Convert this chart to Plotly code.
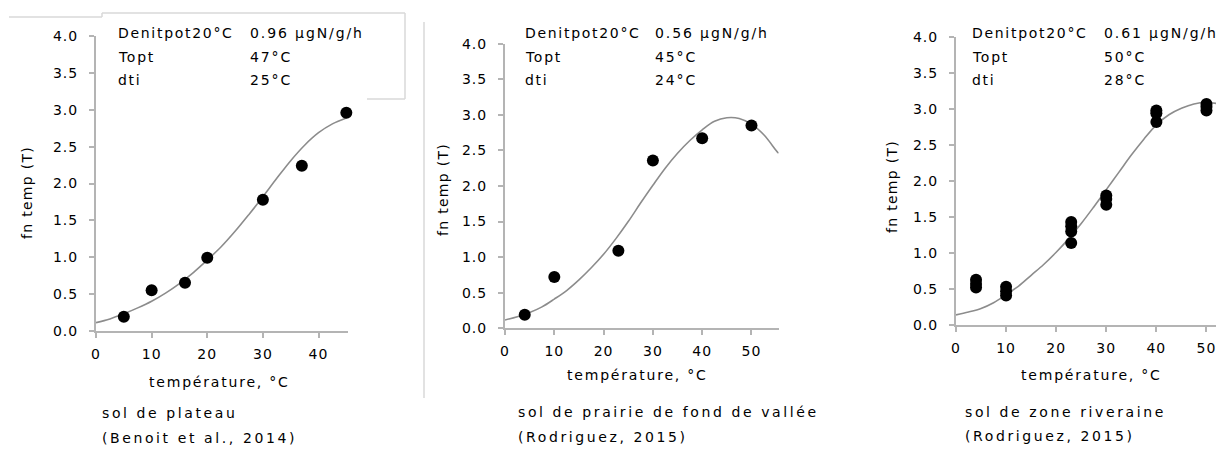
import plotly.graph_objects as go

# The page body has an 8px margin: the figure is drawn 8px in from the top-left,
# so it is sized 1216x442 and all pixel positions below are page pixels.
PAGE_OFF = 8
W, H = 1224 - PAGE_OFF, 450 - PAGE_OFF

# ---------------- data ----------------
# Panel 1 : sol de plateau
t_obs1 = [5, 10, 16, 20, 30, 37, 45]
f_obs1 = [0.19, 0.55, 0.65, 0.99, 1.78, 2.24, 2.96]
t_fit1 = [0, 2.5, 5, 7.5, 10, 12.5, 15, 17.5, 20, 22.5, 25, 27.5, 30, 32.5, 35, 37.5, 40, 42.5, 45]
f_fit1 = [0.11, 0.16, 0.23, 0.31, 0.40, 0.51, 0.64, 0.79, 0.96, 1.14, 1.35, 1.58, 1.82, 2.07, 2.31, 2.52, 2.69, 2.81, 2.89]

# Panel 2 : sol de prairie de fond de vallée
t_obs2 = [4, 10, 23, 30, 40, 50]
f_obs2 = [0.19, 0.72, 1.09, 2.36, 2.67, 2.85]
t_fit2 = [0, 2.5, 5, 7.5, 10, 12.5, 15, 17.5, 20, 22.5, 25, 27.5, 30, 32.5, 35, 37.5, 40, 42.5, 45, 47.5, 50, 52.5, 55, 55.5]
f_fit2 = [0.115, 0.16, 0.22, 0.30, 0.41, 0.53, 0.68, 0.85, 1.04, 1.26, 1.50, 1.76, 2.01, 2.25, 2.46, 2.64, 2.79, 2.91, 2.96, 2.95, 2.87, 2.72, 2.50, 2.46]

# Panel 3 : sol de zone riveraine
t_obs3 = [4, 4, 4, 10, 10, 10, 23, 23, 23, 23, 30, 30, 30, 40, 40, 40, 50, 50, 50]
f_obs3 = [0.63, 0.57, 0.52, 0.53, 0.47, 0.41, 1.43, 1.37, 1.30, 1.14, 1.80, 1.75, 1.67, 2.98, 2.94, 2.82, 3.07, 3.03, 2.98]
t_fit3 = [0, 2.5, 5, 7.5, 10, 12.5, 15, 17.5, 20, 22.5, 25, 27.5, 30, 32.5, 35, 37.5, 40, 42.5, 45, 47.5, 50, 52.5, 53.5]
f_fit3 = [0.14, 0.18, 0.23, 0.31, 0.42, 0.54, 0.69, 0.84, 1.01, 1.20, 1.41, 1.64, 1.88, 2.12, 2.36, 2.58, 2.78, 2.92, 3.01, 3.07, 3.09, 3.07, 3.05]

y_ticks = [0.0, 0.5, 1.0, 1.5, 2.0, 2.5, 3.0, 3.5, 4.0]
y_tick_labels = ["0.0", "0.5", "1.0", "1.5", "2.0", "2.5", "3.0", "3.5", "4.0"]
x_ticks = [0, 10, 20, 30, 40, 50]
x_tick_labels = ["0", "10", "20", "30", "40", "50"]

param_names = ["Denitpot20°C", "Topt", "dti"]
param_values = [
    ["0.96 µgN/g/h", "47°C", "25°C"],
    ["0.56 µgN/g/h", "45°C", "24°C"],
    ["0.61 µgN/g/h", "50°C", "28°C"],
]
captions = [
    ["sol de plateau", "(Benoit et al., 2014)"],
    ["sol de prairie de fond de vallée", "(Rodriguez, 2015)"],
    ["sol de zone riveraine", "(Rodriguez, 2015)"],
]
x_title = "température, °C"
y_title = "fn temp (T)"

# ---------------- layout geometry (page pixels) ----------------
FONT = "DejaVu Sans, Verdana, Arial, sans-serif"
panels = [
    dict(x0=96, x1=348, xmax=45.3, yb=330.7, yt=36.3),
    dict(x0=505, x1=778.6, xmax=55.5, yb=328.2, yt=43.8),
    dict(x0=956, x1=1224, xmax=53.5, yb=325.0, yt=37.0),
]
obs = [(t_obs1, f_obs1), (t_obs2, f_obs2), (t_obs3, f_obs3)]
fits = [(t_fit1, f_fit1), (t_fit2, f_fit2), (t_fit3, f_fit3)]


def sp(s, ls=1.2):
    return f"<span style='letter-spacing:{ls}px'>{s}</span>"


def px(x):
    return (x - PAGE_OFF) / W


def py(y):
    return 1 - (y - PAGE_OFF) / H


fig = go.Figure()
layout = dict(
    width=W, height=H, margin=dict(l=0, r=0, t=0, b=0, autoexpand=False),
    paper_bgcolor="white", plot_bgcolor="white", showlegend=False,
    font=dict(family=FONT, size=13, color="black"),
)

axis_common = dict(
    showline=True, linecolor="#b4b4b4", linewidth=2, showgrid=False, zeroline=False,
    ticks="outside", ticklen=5, tickwidth=1.5, tickcolor="#b4b4b4", automargin=False,
    tickfont=dict(family=FONT, size=14, color="black"),
)

annotations = []
for i, p in enumerate(panels):
    n = "" if i == 0 else str(i + 1)
    xa, ya = "x" + n, "y" + n
    layout["xaxis" + n] = dict(
        axis_common, domain=[px(p["x0"]), min(1.0, px(p["x1"]))], range=[0, p["xmax"]],
        anchor=ya, tickvals=x_ticks, ticktext=[sp(t, 1) for t in x_tick_labels],
        ticklabelstandoff=4,
    )
    layout["yaxis" + n] = dict(
        axis_common, domain=[py(p["yb"]), py(p["yt"])], range=[0, 4],
        anchor=xa, tickvals=y_ticks, ticktext=[sp(t, 1) for t in y_tick_labels],
        ticklabelstandoff=8,
    )
    tf, ff = fits[i]
    fig.add_trace(go.Scatter(
        x=tf, y=ff, mode="lines", line=dict(color="#8c8c8c", width=1.6, shape="spline"),
        xaxis=xa, yaxis=ya, hoverinfo="skip",
    ))
    to, fo = obs[i]
    fig.add_trace(go.Scatter(
        x=to, y=fo, mode="markers", marker=dict(color="black", size=12),
        xaxis=xa, yaxis=ya, cliponaxis=False,
    ))

# parameter text blocks
param_pos = [(116, 248), (523, 653), (970, 1102)]
row_y = [33, 57, 80]
for i, (xl, xv) in enumerate(param_pos):
    for r in range(3):
        annotations.append(dict(
            x=px(xl), y=py(row_y[r]), xref="paper", yref="paper", xanchor="left", yanchor="middle",
            text=sp(param_names[r], 1.7), showarrow=False, font=dict(size=14)))
        annotations.append(dict(
            x=px(xv), y=py(row_y[r]), xref="paper", yref="paper", xanchor="left", yanchor="middle",
            text=sp(param_values[i][r], 1.9), showarrow=False, font=dict(size=14)))

# axis titles
xt_pos = [(219, 382), (637, 375), (1091, 375)]
yt_pos = [(27, 193), (443, 190), (892, 187)]
for i in range(3):
    annotations.append(dict(
        x=px(xt_pos[i][0]), y=py(xt_pos[i][1]), xref="paper", yref="paper",
        xanchor="center", yanchor="middle", text=sp(x_title, 1.8), showarrow=False,
        font=dict(size=14)))
    annotations.append(dict(
        x=px(yt_pos[i][0]), y=py(yt_pos[i][1]), xref="paper", yref="paper",
        xanchor="center", yanchor="middle", text=sp(y_title, 1.3), showarrow=False,
        textangle=-90, font=dict(size=14)))

# captions
cap_pos = [(100, 413, 438), (516, 412, 437), (963, 412, 436)]
for i in range(3):
    x, y1, y2 = cap_pos[i]
    for txt, yy in zip(captions[i], (y1, y2)):
        annotations.append(dict(
            x=px(x), y=py(yy), xref="paper", yref="paper", xanchor="left", yanchor="middle",
            text=sp(txt, 2.6), showarrow=False, font=dict(size=14)))

layout["annotations"] = annotations

# light frame decorations
line_style = dict(color="#d9d9d9", width=1.5)


def seg(xa_, ya_, xb_, yb_):
    return dict(type="line", xref="paper", yref="paper", x0=px(xa_), x1=px(xb_),
                y0=py(ya_), y1=py(yb_), line=line_style)


layout["shapes"] = [
    seg(9, 17, 102, 17),
    seg(102, 13, 102, 17),
    seg(102, 13, 405, 13),
    seg(405, 13, 405, 99),
    seg(367, 99, 405, 99),
    seg(424, 22, 424, 398),
]

fig.update_layout(**layout)
fig.write_html("out.html")
